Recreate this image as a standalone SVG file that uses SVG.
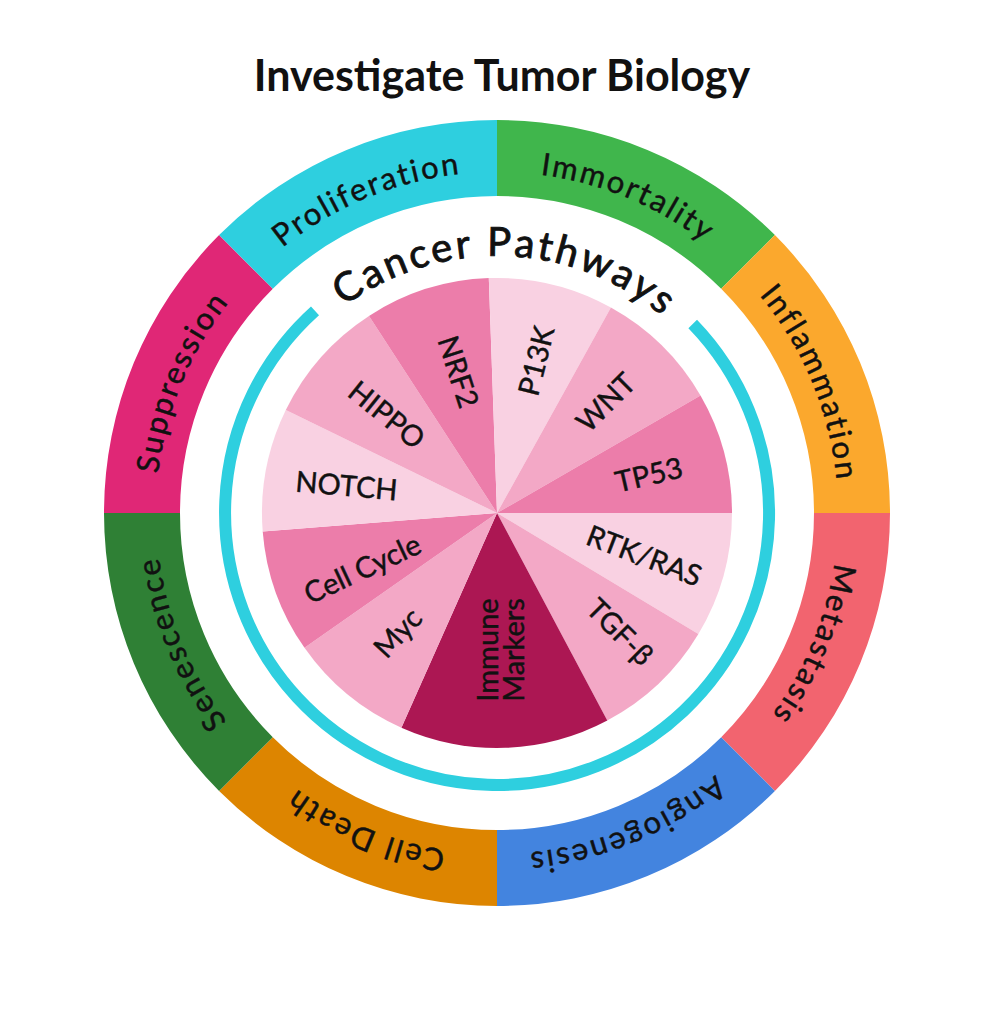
<svg xmlns="http://www.w3.org/2000/svg" xmlns:xlink="http://www.w3.org/1999/xlink" width="998" height="1024" viewBox="0 0 998 1024">
<style>
.ring{font-family:Lato,"Liberation Sans",sans-serif;font-size:31px;fill:#111;stroke:#111;stroke-width:0.45px;letter-spacing:2.2px}
.pie{font-family:Lato,"Liberation Sans",sans-serif;font-size:29px;fill:#111;stroke:#111;stroke-width:0.45px;text-anchor:middle}
.title{font-family:Lato,"Liberation Sans",sans-serif;font-size:43px;font-weight:bold;fill:#111;text-anchor:middle}
.cp{font-family:Lato,"Liberation Sans",sans-serif;font-size:40px;fill:#111;stroke:#111;stroke-width:0.9px;letter-spacing:3px}
.light{fill:#F9D1E2}.mid{fill:#F3A8C6}.dark{fill:#EC7DAA}
</style>
<defs>
<path id="ringPath" d="M156,513 A341,341 0 1 1 838,513 A341,341 0 1 1 156,513"/>
<path id="cpPath" d="M240,513 A257,257 0 1 1 754,513 A257,257 0 1 1 240,513"/>
</defs>
<rect width="998" height="1024" fill="#fff"/>
<text class="title" x="502" y="91">Investigate Tumor Biology</text>

<g id="outer-ring">
<g id="suppression"><path fill="#E02776" d="M104,513 A393,393 0 0 1 219.1,235.1 L272.8,288.8 A317,317 0 0 0 180,513 Z"/>
<text class="ring" text-anchor="middle"><textPath xlink:href="#ringPath" href="#ringPath" startOffset="6.25%">Suppression</textPath></text></g>
<g id="proliferation"><path fill="#2ECFDF" d="M219.1,235.1 A393,393 0 0 1 497,120 L497,196 A317,317 0 0 0 272.8,288.8 Z"/>
<text class="ring" text-anchor="middle"><textPath xlink:href="#ringPath" href="#ringPath" startOffset="18.75%">Proliferation</textPath></text></g>
<g id="immortality"><path fill="#40B64C" d="M497,120 A393,393 0 0 1 774.9,235.1 L721.2,288.8 A317,317 0 0 0 497,196 Z"/>
<text class="ring" text-anchor="middle"><textPath xlink:href="#ringPath" href="#ringPath" startOffset="31.25%">Immortality</textPath></text></g>
<g id="inflammation"><path fill="#FBA82D" d="M774.9,235.1 A393,393 0 0 1 890,513 L814,513 A317,317 0 0 0 721.2,288.8 Z"/>
<text class="ring" text-anchor="middle"><textPath xlink:href="#ringPath" href="#ringPath" startOffset="43.75%">Inflammation</textPath></text></g>
<g id="metastasis"><path fill="#F2646F" d="M890,513 A393,393 0 0 1 774.9,790.9 L721.2,737.2 A317,317 0 0 0 814,513 Z"/>
<text class="ring" text-anchor="middle"><textPath xlink:href="#ringPath" href="#ringPath" startOffset="56.25%">Metastasis</textPath></text></g>
<g id="angiogenesis"><path fill="#4384DF" d="M774.9,790.9 A393,393 0 0 1 497,906 L497,830 A317,317 0 0 0 721.2,737.2 Z"/>
<text class="ring" text-anchor="middle"><textPath xlink:href="#ringPath" href="#ringPath" startOffset="68.75%">Angiogenesis</textPath></text></g>
<g id="cell-death"><path fill="#DD8500" d="M497,906 A393,393 0 0 1 219.1,790.9 L272.8,737.2 A317,317 0 0 0 497,830 Z"/>
<text class="ring" text-anchor="middle"><textPath xlink:href="#ringPath" href="#ringPath" startOffset="81.25%">Cell Death</textPath></text></g>
<g id="senescence"><path fill="#2F8035" d="M219.1,790.9 A393,393 0 0 1 104,513 L180,513 A317,317 0 0 0 272.8,737.2 Z"/>
<text class="ring" text-anchor="middle"><textPath xlink:href="#ringPath" href="#ringPath" startOffset="93.75%">Senescence</textPath></text></g>
</g>

<g id="cancer-pathways">
<path d="M692.7,324 A272,272 0 1 1 315,310.9" fill="none" stroke="#2ECFDF" stroke-width="12"/>
<text class="cp" text-anchor="middle"><textPath xlink:href="#cpPath" href="#cpPath" startOffset="25.56%">Cancer Pathways</textPath></text>
</g>

<g id="pie">
<g id="rtk-ras"><path class="light" d="M497,513 L732,513 A235,235 0 0 1 698.4,634 Z"/><text class="pie" transform="translate(644,556) rotate(21)" y="10">RTK/RAS</text></g>
<g id="tgf-beta"><path class="mid" d="M497,513 L698.4,634 A235,235 0 0 1 607.3,720.5 Z"/><text class="pie" transform="translate(620,632) rotate(45)" y="10">TGF-β</text></g>
<g id="immune-markers"><path fill="#AC1753" d="M497,513 L607.3,720.5 A235,235 0 0 1 401.4,727.7 Z"/><text class="pie" transform="translate(511,650) rotate(-90)"><tspan x="0" y="-13">Immune</tspan><tspan x="0" y="13">Markers</tspan></text></g>
<g id="myc"><path class="mid" d="M497,513 L401.4,727.7 A235,235 0 0 1 304.5,647.8 Z"/><text class="pie" transform="translate(398,633) rotate(-47)" y="10">Myc</text></g>
<g id="cell-cycle"><path class="dark" d="M497,513 L304.5,647.8 A235,235 0 0 1 262.7,531.4 Z"/><text class="pie" transform="translate(362.5,569) rotate(-25)" y="10">Cell Cycle</text></g>
<g id="notch"><path class="light" d="M497,513 L262.7,531.4 A235,235 0 0 1 285.8,410 Z"/><text class="pie" transform="translate(346.5,486) rotate(5)" y="10">NOTCH</text></g>
<g id="hippo"><path class="mid" d="M497,513 L285.8,410 A235,235 0 0 1 369,315.9 Z"/><text class="pie" transform="translate(386.5,415) rotate(39)" y="10">HIPPO</text></g>
<g id="nrf2"><path class="dark" d="M497,513 L369,315.9 A235,235 0 0 1 488.8,278.1 Z"/><text class="pie" transform="translate(458,372) rotate(72)" y="10">NRF2</text></g>
<g id="p13k"><path class="light" d="M497,513 L488.8,278.1 A235,235 0 0 1 610.9,307.5 Z"/><text class="pie" transform="translate(536.5,361) rotate(-76)" y="10">P13K</text></g>
<g id="wnt"><path class="mid" d="M497,513 L610.9,307.5 A235,235 0 0 1 700.5,395.5 Z"/><text class="pie" transform="translate(606,402.5) rotate(-45)" y="10">WNT</text></g>
<g id="tp53"><path class="dark" d="M497,513 L700.5,395.5 A235,235 0 0 1 732,513 Z"/><text class="pie" transform="translate(649,475) rotate(-13)" y="10">TP53</text></g>
</g>
</svg>
